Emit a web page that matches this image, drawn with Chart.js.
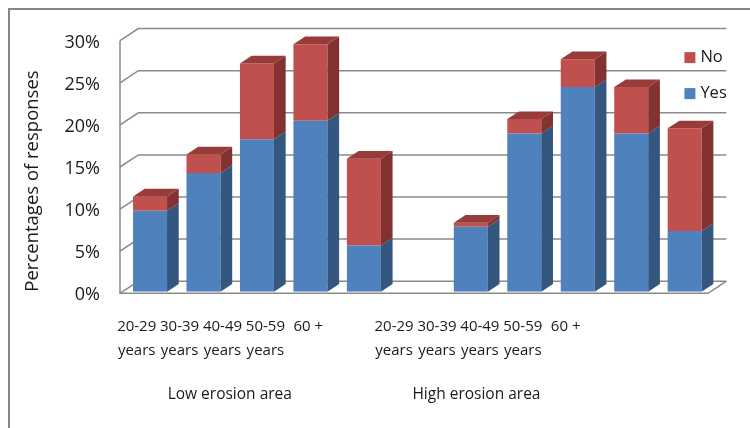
<!DOCTYPE html>
<html>
<head>
<meta charset="utf-8">
<script src="https://cdn.jsdelivr.net/npm/chart.js@4.4.0/dist/chart.umd.min.js"></script>
<style>
  html, body { margin: 0; padding: 0; background: #fff; }
  canvas { display: block; }
</style>
</head>
<body>
<canvas id="chart" width="750" height="428"></canvas>
<script>
const ageGroups = ["20-29 years", "30-39 years", "40-49 years", "50-59 years", "60 +"];
const areas = ["Low erosion area", "High erosion area"];
const yesLow = [9.6, 14.1, 18.1, 20.3, 5.5];
const noLow = [1.7, 2.2, 9.0, 9.1, 10.3];
const yesHigh = [7.7, 18.8, 24.3, 18.8, 7.2];
const noHigh = [0.5, 1.7, 3.3, 5.5, 12.2];
const yTicks = [0, 5, 10, 15, 20, 25, 30];

// one empty slot between the two areas
const labels = [...ageGroups, "", ...ageGroups];
const yesData = [...yesLow, null, ...yesHigh];
const noData = [...noLow, null, ...noHigh];

const textColor = "#1a1a1a";
const gridColor = "#8a8a8a";

// fake 3D: offsets of the front edge, back wall and bar depth from the bar plane
const FRONT = [-3.3, 1.6];
const BACK = [15, -10.5];
const DEPTH = [11.7, -7.7];

// range of the label axes, in label slots
const SLOT_MIN = -0.3124;
const SLOT_MAX = 13.397;

Chart.defaults.font.family = "'Open Sans', sans-serif";
Chart.defaults.color = textColor;

function poly(ctx, pts) {
    ctx.beginPath();
    ctx.moveTo(pts[0][0], pts[0][1]);
    for (let k = 1; k < pts.length; k++) ctx.lineTo(pts[k][0], pts[k][1]);
    ctx.closePath();
    ctx.fill();
}

const framePlugin = {
    id: "frame",
    beforeDraw(chart) {
        const ctx = chart.ctx;
        ctx.save();
        ctx.fillStyle = "#fff";
        ctx.fillRect(0, 0, chart.width, chart.height);
        ctx.fillStyle = "#868686";
        ctx.fillRect(8, 8, chart.width - 8, 2);
        ctx.fillRect(8, 8, 2, chart.height - 8);
        ctx.restore();
    },
};

const wallsPlugin = {
    id: "walls",
    beforeDatasetsDraw(chart) {
        const { ctx, chartArea: a, scales } = chart;
        const y = scales.y;
        ctx.save();
        ctx.strokeStyle = gridColor;
        ctx.lineWidth = 1.5;
        // side wall + back wall grid lines
        yTicks.forEach((v) => {
            const py = y.getPixelForValue(v);
            ctx.beginPath();
            ctx.moveTo(a.left + FRONT[0], py + FRONT[1]);
            ctx.lineTo(a.left + BACK[0], py + BACK[1]);
            ctx.lineTo(a.right + BACK[0], py + BACK[1]);
            ctx.stroke();
        });
        const top = y.getPixelForValue(30);
        const zero = y.getPixelForValue(0);
        // front edge of the side wall and the floor
        ctx.beginPath();
        ctx.moveTo(a.left + FRONT[0], top + FRONT[1]);
        ctx.lineTo(a.left + FRONT[0], zero + FRONT[1]);
        ctx.lineTo(a.right + FRONT[0], zero + FRONT[1]);
        ctx.lineTo(a.right + BACK[0], zero + BACK[1]);
        ctx.stroke();
        ctx.restore();
    },
};

const facesPlugin = {
    id: "faces",
    afterDatasetsDraw(chart) {
        const ctx = chart.ctx;
        const sets = chart.data.datasets;
        ctx.save();
        sets.forEach((ds, di) => {
            const meta = chart.getDatasetMeta(di);
            meta.data.forEach((bar, i) => {
                if (ds.data[i] == null) return;
                const { x, y, base, width } = bar.getProps(["x", "y", "base", "width"], true);
                const l = x - width / 2;
                const r = x + width / 2;
                const [dx, dy] = DEPTH;
                ctx.fillStyle = ds.sideColor;
                poly(ctx, [[r, y], [r + dx, y + dy], [r + dx, base + dy], [r, base]]);
                const isTop = sets.slice(di + 1).every((o) => !o.data[i]);
                if (isTop) {
                    ctx.fillStyle = ds.topColor;
                    poly(ctx, [[l, y], [l + dx, y + dy], [r + dx, y + dy], [r, y]]);
                }
            });
        });
        ctx.restore();
    },
};

const legendPlugin = {
    id: "sideLegend",
    afterDraw(chart) {
        const { ctx, chartArea: a } = chart;
        const items = chart.data.datasets.slice().reverse();
        ctx.save();
        ctx.font = "16.5px 'Open Sans', sans-serif";
        ctx.textBaseline = "middle";
        ctx.textAlign = "left";
        items.forEach((ds, k) => {
            const sy = a.top + 13 + k * 36;
            ctx.fillStyle = ds.backgroundColor;
            ctx.fillRect(a.right - 27, sy, 11, 11);
            ctx.fillStyle = textColor;
            ctx.fillText(ds.label, a.right - 11, sy + 5.5);
        });
        ctx.restore();
    },
};

// slot numbers of the age labels and the area names on the label axes
const ageSlots = [0, 1, 2, 3, 4, 6, 7, 8, 9, 10];
const areaSlots = [2.17, 7.92];

new Chart(document.getElementById("chart").getContext("2d"), {
    type: "bar",
    data: {
        labels: labels,
        datasets: [
            {
                label: "Yes",
                data: yesData,
                backgroundColor: "#4f81bd",
                sideColor: "#34577f",
                topColor: "#4572a8",
                borderWidth: 0,
            },
            {
                label: "No",
                data: noData,
                backgroundColor: "#c0504d",
                sideColor: "#813231",
                topColor: "#983b39",
                borderWidth: 0,
            },
        ],
    },
    options: {
        responsive: false,
        animation: false,
        layout: { padding: { top: 39.1, right: 38.6, bottom: 23.7, left: 0 } },
        categoryPercentage: 1,
        barPercentage: 0.636,
        plugins: {
            legend: { display: false },
            tooltip: { enabled: false },
        },
        scales: {
            x: { display: false, stacked: true },
            y: {
                stacked: true,
                min: 0,
                max: 30,
                border: { display: false },
                grid: { display: false, drawTicks: false },
                ticks: {
                    stepSize: 5,
                    padding: 23.3,
                    labelOffset: 3.5,
                    font: { size: 18 },
                    color: textColor,
                    callback: (v) => v + "%",
                },
                title: {
                    display: true,
                    text: "Percentages of responses",
                    align: "start",
                    font: { size: 18.5 },
                    color: textColor,
                    padding: { top: 22, bottom: 0 },
                },
                afterFit: (s) => { s.width = 123.3; },
            },
            ages: {
                type: "linear",
                position: "bottom",
                weight: 1,
                offset: false,
                bounds: "data",
                min: SLOT_MIN,
                max: SLOT_MAX,
                border: { display: false },
                grid: { display: false, drawTicks: false },
                afterBuildTicks: (s) => { s.ticks = ageSlots.map((v) => ({ value: v })); },
                ticks: {
                    autoSkip: false,
                    maxRotation: 0,
                    padding: 23.7,
                    color: textColor,
                    font: { size: 15, lineHeight: 1.55 },
                    callback: (v) => {
                        const label = ageGroups[v < 5 ? v : v - 6];
                        return label.endsWith(" years") ? [label.replace(" years", ""), "years"] : label;
                    },
                },
                afterFit: (s) => { s.height = 70; },
            },
            areaAxis: {
                type: "linear",
                position: "bottom",
                weight: 2,
                offset: false,
                bounds: "data",
                min: SLOT_MIN,
                max: SLOT_MAX,
                border: { display: false },
                grid: { display: false, drawTicks: false },
                afterBuildTicks: (s) => { s.ticks = areaSlots.map((v) => ({ value: v })); },
                ticks: {
                    autoSkip: false,
                    maxRotation: 0,
                    padding: 23.6,
                    color: textColor,
                    font: { size: 15.5 },
                    callback: (v, i) => areas[i],
                },
                afterFit: (s) => { s.height = 42.6; },
            },
        },
    },
    plugins: [framePlugin, wallsPlugin, facesPlugin, legendPlugin],
});
</script>
</body>
</html>
